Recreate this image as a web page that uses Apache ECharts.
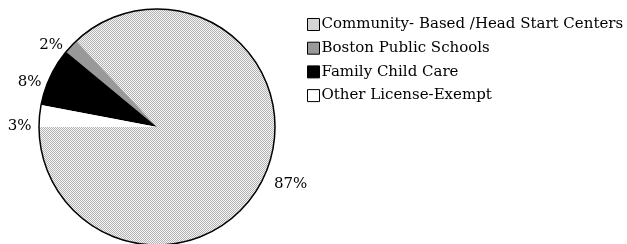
<!DOCTYPE html>
<html><head><meta charset="utf-8">
<script src="https://cdn.jsdelivr.net/npm/echarts@6/dist/echarts.min.js"></script>
<style>html,body{margin:0;padding:0;background:#fff}#c{width:627px;height:244px}</style>
</head><body><div id="c"></div>
<script>
var categories = ['Community- Based /Head Start Centers', 'Boston Public Schools', 'Family Child Care', 'Other License-Exempt'];
var values = [87, 2, 8, 3];
var sliceColors = ['pattern', '#999999', '#000000', '#ffffff'];

function makePattern() {
  var cv = document.createElement('canvas');
  cv.width = 2; cv.height = 2;
  var ctx = cv.getContext('2d');
  ctx.fillStyle = '#f4f4f4'; ctx.fillRect(0, 0, 2, 2);
  ctx.fillStyle = '#b4b4b4'; ctx.fillRect(0, 0, 1, 1); ctx.fillRect(1, 1, 1, 1);
  return { image: cv, repeat: 'repeat' };
}
var pat = makePattern();
var font = 'DejaVu Serif';
// label nudges (layout only), in category order
var labelNudge = [[5, 9], [-5, 2], [-5, 7], [-4, 11]];

var data = categories.map(function (n, i) {
  return { name: n, value: values[i], itemStyle: { color: sliceColors[i] === 'pattern' ? pat : sliceColors[i] } };
});

var chart = echarts.init(document.getElementById('c'), null, { renderer: 'canvas' });
chart.setOption({
  animation: false,
  backgroundColor: '#fff',
  legend: {
    orient: 'vertical', left: 307, top: 17, padding: 0,
    itemWidth: 12, itemHeight: 12, itemGap: 8.7,
    icon: 'rect',
    data: categories,
    itemStyle: { borderColor: '#000', borderWidth: 1 },
    textStyle: { fontFamily: font, fontSize: 15, color: '#000', lineHeight: 14, padding: [0, 0, 0, -3] }
  },
  series: [{
    type: 'pie', center: [157, 127], radius: 118,
    startAngle: 180, clockwise: false,
    data: data,
    itemStyle: { borderWidth: 0 },
    label: { show: true, position: 'outside', formatter: '{c}%', fontFamily: font, fontSize: 15, color: '#000', distanceToLabelLine: 0 },
    labelLine: { show: false, length: 4, length2: 0 },
    labelLayout: function (p) {
      var n = labelNudge[p.dataIndex];
      return { dx: n[0], dy: n[1] };
    },
    emphasis: { disabled: true },
    silent: true
  }, {
    type: 'pie', center: [157, 127], radius: 118,
    data: [{ name: '_outline', value: 1 }],
    itemStyle: { color: 'rgba(0,0,0,0)', borderColor: '#000', borderWidth: 1.5 },
    label: { show: false }, labelLine: { show: false },
    emphasis: { disabled: true }, silent: true
  }]
});
</script>
</body></html>
